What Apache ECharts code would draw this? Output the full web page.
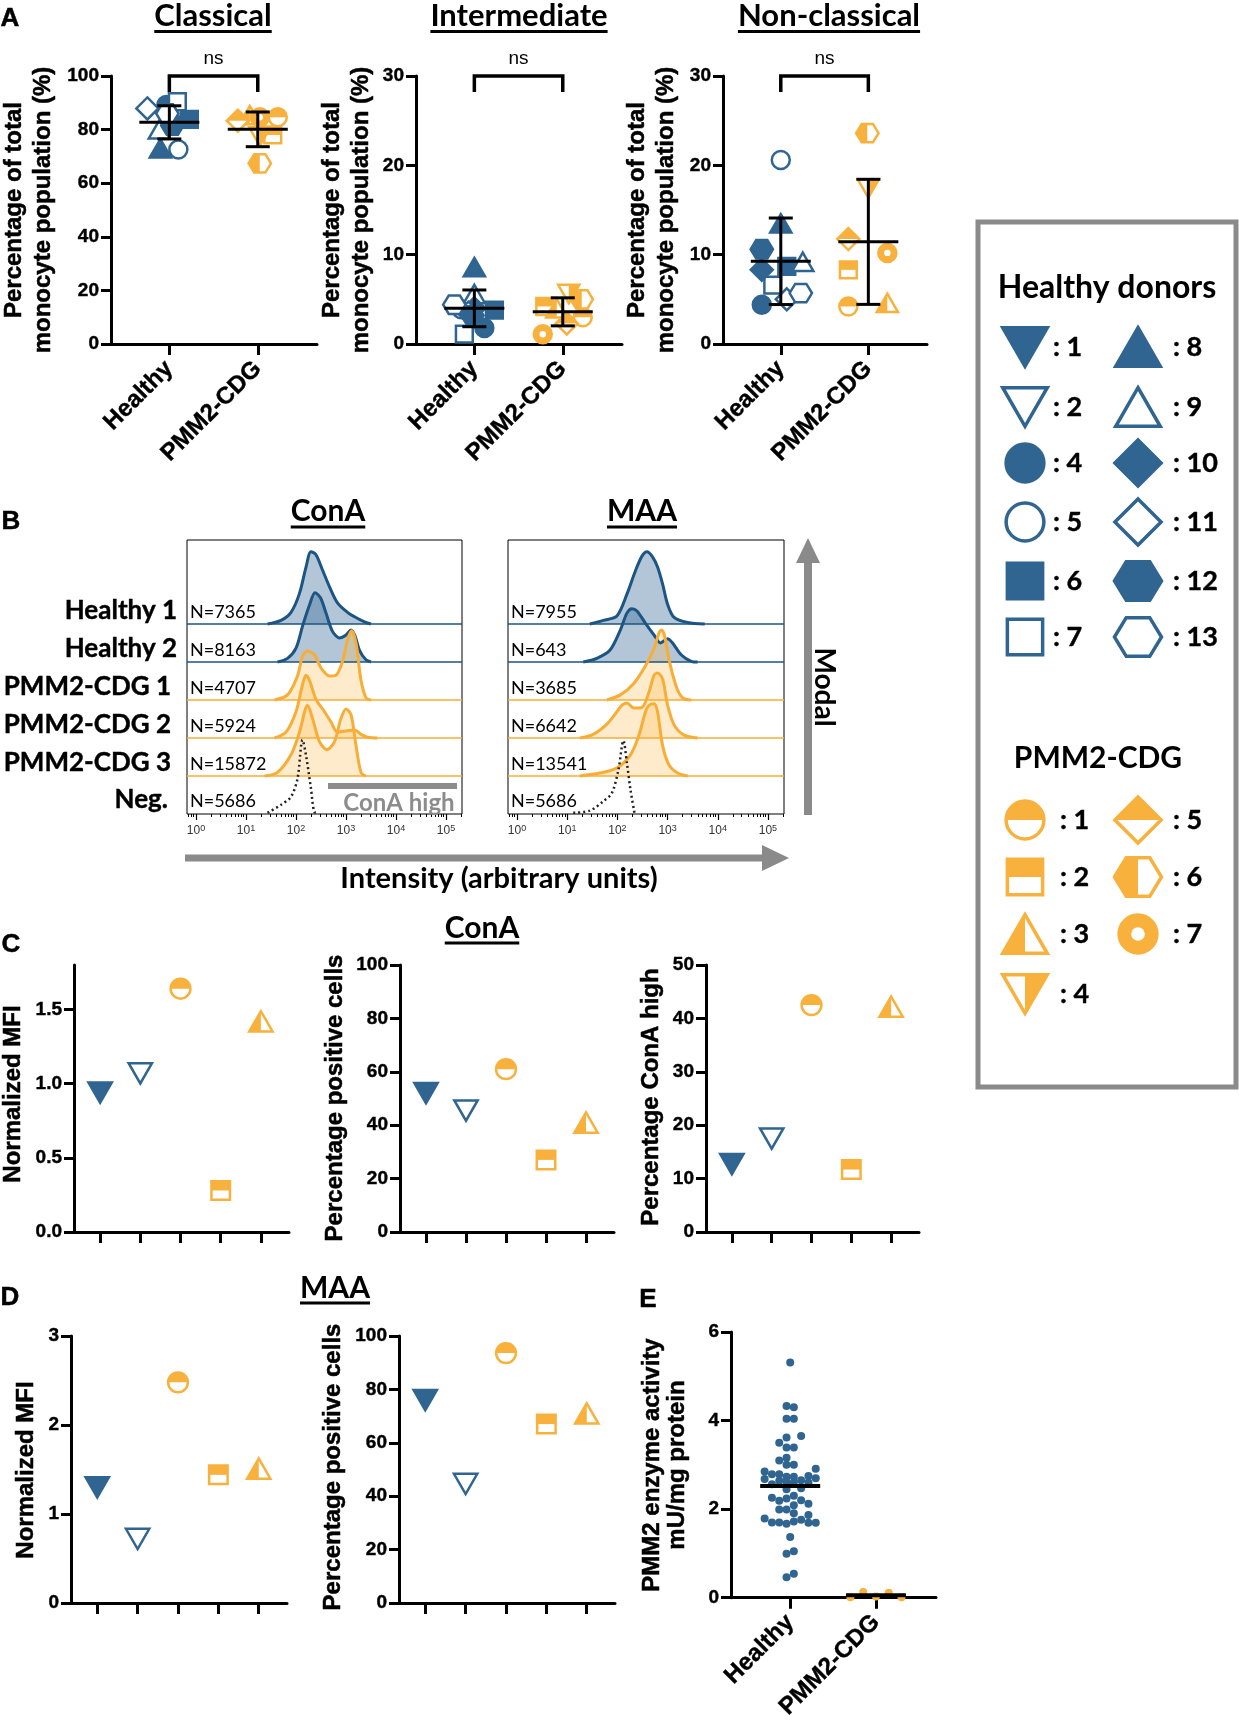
<!DOCTYPE html>
<html>
<head>
<meta charset="utf-8">
<title>Monocyte subsets and glycosylation</title>
<script src="https://cdn.jsdelivr.net/npm/echarts@6.0.0/dist/echarts.min.js"></script>
<style>
html,body{margin:0;padding:0;background:#ffffff;}
#chart{width:1239px;height:1722px;}
</style>
</head>
<body>
<div id="chart"></div>
<script>
// ================= DATA =================
const GROUPS = ['Healthy', 'PMM2-CDG'];

// Panel A: monocyte subsets (% of total monocytes), per donor
const A_H_DONORS = [4, 5, 6, 7, 8, 9, 10, 11, 12, 13];
const A_P_DONORS = [1, 2, 3, 4, 5, 6, 7];
const A_CLASSICAL_H = [89.2, 72.6, 83.8, 90.4, 73.0, 80.1, 82.5, 87.9, 81.5, 86.0];
const A_CLASSICAL_P = [84.6, 78.0, 85.4, 77.4, 83.3, 67.4, 84.6];
const A_INTER_H = [1.8, 3.9, 3.8, 1.1, 8.6, 5.6, 4.0, 3.5, 3.2, 4.4];
const A_INTER_P = [3.0, 4.2, 4.0, 5.6, 2.3, 5.0, 1.1];
const A_NONCL_H = [4.4, 20.6, 8.7, 6.6, 13.5, 9.2, 8.3, 5.0, 10.6, 5.7];
const A_NONCL_P = [4.2, 8.3, 4.6, 17.4, 11.75, 23.6, 10.2];

// Panel B: histograms, [log10 intensity, % of mode]
const B_ROWS = ['Healthy 1', 'Healthy 2', 'PMM2-CDG 1', 'PMM2-CDG 2', 'PMM2-CDG 3', 'Neg.'];
const CONA_N = [7365, 8163, 4707, 5924, 15872, 5686];
const MAA_N = [7955, 643, 3685, 6642, 13541, 5686];
const CONA_H1 = [[1.43,0],[1.7,5],[1.9,16],[2.07,42],[2.2,78],[2.3,99],[2.4,95],[2.53,74],[2.67,51],[2.83,29],[3.03,16],[3.17,10],[3.37,3],[3.5,0]];
const CONA_H2 = [[1.63,0],[1.83,5],[2.0,19],[2.13,49],[2.27,78],[2.38,95],[2.49,88],[2.6,67],[2.73,42],[2.87,33],[3.0,37],[3.1,44],[3.18,36],[3.27,16],[3.4,3],[3.5,0]];
const CONA_P1 = [[1.57,0],[1.83,7],[2.03,33],[2.13,60],[2.23,67],[2.37,62],[2.5,44],[2.67,33],[2.8,34],[2.93,53],[3.03,82],[3.11,95],[3.2,78],[3.3,27],[3.4,3],[3.5,0]];
const CONA_P2 = [[1.57,0],[1.8,8],[2.0,36],[2.13,73],[2.2,86],[2.27,79],[2.4,53],[2.57,36],[2.7,22],[2.83,8],[3.03,10],[3.17,11],[3.3,5],[3.43,1],[3.63,0]];
const CONA_P3 = [[1.37,0],[1.63,5],[1.9,29],[2.07,60],[2.18,90],[2.23,97],[2.33,79],[2.47,47],[2.62,36],[2.77,47],[2.9,79],[3.0,92],[3.1,84],[3.2,42],[3.3,5],[3.4,0]];
const CONA_NEG = [[1.43,0],[1.7,11],[1.9,22],[2.03,47],[2.13,100],[2.2,79],[2.3,33],[2.37,1],[2.45,0]];
const MAA_H1 = [[1.45,0],[1.72,5],[1.99,11],[2.19,41],[2.36,73],[2.49,93],[2.59,99],[2.7,92],[2.8,78],[2.9,55],[3.0,27],[3.13,9],[3.4,2],[3.74,0]];
const MAA_H2 = [[1.32,0],[1.59,5],[1.85,16],[2.06,44],[2.19,67],[2.29,73],[2.39,70],[2.56,53],[2.73,37],[2.86,26],[3.0,32],[3.1,26],[3.27,10],[3.47,1],[3.6,0]];
const MAA_P1 = [[1.79,0],[2.06,7],[2.33,23],[2.56,47],[2.73,71],[2.83,92],[2.88,96],[2.94,88],[3.03,55],[3.17,19],[3.3,3],[3.47,0]];
const MAA_P2 = [[1.25,0],[1.52,5],[1.79,19],[1.99,36],[2.09,45],[2.19,48],[2.33,41],[2.49,42],[2.63,63],[2.73,86],[2.8,89],[2.9,81],[3.0,45],[3.13,18],[3.33,4],[3.6,0]];
const MAA_P3 = [[1.25,0],[1.65,4],[1.99,11],[2.26,29],[2.43,56],[2.56,88],[2.63,97],[2.73,99],[2.8,88],[2.9,42],[3.03,15],[3.2,4],[3.4,0]];
const MAA_NEG = [[1.12,0],[1.45,3],[1.72,16],[1.89,27],[2.02,59],[2.12,99],[2.19,68],[2.26,32],[2.34,0]];
const CONA_HIGH_GATE = [2.64, 5.22];   // log10 range of the ConA-high gate

// Panels C, D: per sample (Healthy 1, Healthy 2, PMM2-CDG 1, 2, 3)
const CD_SAMPLES = ['H1', 'H2', 'P1', 'P2', 'P3'];
const C_MFI = [0.94, 1.07, 1.64, 0.28, 1.42];
const C_POS = [52, 45.5, 61, 27, 41];
const C_HIGH = [12.7, 17.5, 42.5, 11.7, 42.2];
const D_MFI = [1.30, 0.72, 2.48, 1.44, 1.51];
const D_POS = [76, 44.6, 93.6, 67, 71];

// Panel E: PMM2 enzyme activity (mU/mg protein)
const E_HEALTHY = [5.31, 4.33, 4.30, 4.04, 4.04, 3.62, 3.65, 3.50, 3.39, 3.39, 3.10, 3.16, 3.00, 3.00,
  2.85, 2.79, 2.79, 2.91, 2.75, 2.73, 2.73, 2.68, 2.64, 2.65, 2.70, 2.60, 2.56, 2.62, 2.60,
  2.45, 2.47, 2.30, 2.26, 2.24, 2.19, 2.20, 2.09, 2.12, 1.99, 1.99, 1.91, 1.87, 1.79, 1.76,
  1.70, 1.70, 1.67, 1.72, 1.69, 1.69, 1.37, 0.99, 1.05, 0.46, 0.54];
const E_PMM2 = [0.01, 0.13, 0.03, 0.11, 0.01];

// ================= LAYOUT / STYLE =================
const BLUE = '#2f6590', ORANGE = '#f8b13c';
const H_LINE = '#1c5583', H_FILL = 'rgba(46,100,145,0.52)';
const P_LINE = '#f7ad36', P_FILL = 'rgba(250,186,82,0.42)';
const FA = '"Liberation Sans", Arial, sans-serif';
const FT = 'Lato, "Open Sans", sans-serif';

// swarm offsets (px) for panel A, by donor number
const JIT_CLASSICAL_H = {4:-3,5:9,6:20,7:8,8:-9,9:-10,10:5,11:-22,12:3,13:-2};
const JIT_CLASSICAL_P = {1:20,2:15,3:-8,4:2,5:-20,6:2,7:2};
const JIT_INTER_H = {4:10,5:-13,6:20,7:-10,8:0,9:0,10:0,11:-6,12:-2,13:-20};
const JIT_INTER_P = {1:20,2:-18,3:-6,4:6,5:4,6:19,7:-20};
const JIT_NONCL_H = {4:-19,5:0,6:6,7:-8,8:0,9:22,10:-19,11:6,12:-19,13:20};
const JIT_NONCL_P = {1:-20,2:-20,3:19,4:0,5:-20,6:-1,7:19};
// swarm column index for panel E (column width 7.3 px)
const E_HEALTHY_COL = [0, -0.5, 0.5, -0.5, 0.5, -0.5, 1.5, -1.5, -0.5, 0.5, -1.5, -0.5, -0.5, 0.5,
  -3.5, -2.5, -1.5, 3.5, 2.5, -0.5, 0.5, -3.5, -1.5, 1.5, 3.5, 2.5, -2.5, -0.5, 0.5,
  -0.5, 1.5, 0.5, -2.5, -0.5, -1.5, 1.5, 0.5, 2.5, -0.5, -1.5, 0.5, 2.5, -3.5, 1.5,
  -2.5, -1.5, -0.5, 0.5, 2.5, 3.5, 0, -0.5, 0.5, -0.5, 0.5];
const E_PMM2_COL = [-3.5, -1.75, 0, 1.75, 3.5];

const B_XMIN = -0.18, B_XMAX = 5.32, B_ROWPX = 38, B_YMAX = 274 / 38;
const B_BASE = [5, 4, 3, 2, 1, 0.03];
const B_K = 1.92 / 100;

// ================= HELPERS =================
const ctx2d = document.createElement('canvas').getContext('2d');
function textW(t, font) { ctx2d.font = font; return ctx2d.measureText(t).width; }
function meanOf(a) { return a.reduce((s, v) => s + v, 0) / a.length; }
function sdOf(a) { const m = meanOf(a); return Math.sqrt(a.reduce((s, v) => s + (v - m) * (v - m), 0) / (a.length - 1)); }

function arcPts(cx, cy, r, a0, a1, n) {
  const pts = [];
  for (let i = 0; i <= n; i++) { const a = a0 + (a1 - a0) * i / n; pts.push([cx + r * Math.cos(a), cy + r * Math.sin(a)]); }
  return pts;
}
function shapeEls(kind, cx, cy, s, lw) {
  const isH = kind[0] === 'H';
  const n = parseInt(kind.slice(1), 10);
  const c = isH ? BLUE : ORANGE;
  const r = s * 0.45, a = s * 0.42, tw = s * 0.53, th = s * 0.46, dw = s * 0.55, dh = s * 0.55, hw = s * 0.56, hh = s * 0.46;
  const up = [[cx, cy - th], [cx + tw, cy + th], [cx - tw, cy + th]];
  const dn = [[cx - tw, cy - th], [cx + tw, cy - th], [cx, cy + th]];
  const sq = [[cx - a, cy - a], [cx + a, cy - a], [cx + a, cy + a], [cx - a, cy + a]];
  const di = [[cx, cy - dh], [cx + dw, cy], [cx, cy + dh], [cx - dw, cy]];
  const hx = [[cx - hw, cy], [cx - hw / 2, cy - hh], [cx + hw / 2, cy - hh], [cx + hw, cy], [cx + hw / 2, cy + hh], [cx - hw / 2, cy + hh]];
  const P = (pts, fill, stroke) => ({ type: 'polygon', shape: { points: pts }, style: { fill: fill, stroke: stroke || 'none', lineWidth: lw, lineJoin: 'miter' } });
  const C = (rr, fill, stroke) => ({ type: 'circle', shape: { cx: cx, cy: cy, r: rr }, style: { fill: fill, stroke: stroke || 'none', lineWidth: lw } });
  if (isH) {
    const open = [2, 5, 7, 9, 11, 13].indexOf(n) >= 0;
    const f = open ? '#ffffff' : c;
    if (n === 4 || n === 5) return [C(r, f, c)];
    const base = { 1: dn, 2: dn, 6: sq, 7: sq, 8: up, 9: up, 10: di, 11: di, 12: hx, 13: hx }[n];
    return [P(base, f, c)];
  }
  switch (n) {
    case 1: return [C(r, '#ffffff'), P(arcPts(cx, cy, r, Math.PI, 2 * Math.PI, 24), c), C(r, 'none', c)];
    case 2: return [P(sq, '#ffffff'), P([[cx - a, cy - a], [cx + a, cy - a], [cx + a, cy], [cx - a, cy]], c), P(sq, 'none', c)];
    case 3: return [P(up, '#ffffff'), P([[cx, cy - th], [cx, cy + th], [cx - tw, cy + th]], c), P(up, 'none', c)];
    case 4: return [P(dn, '#ffffff'), P([[cx, cy - th], [cx + tw, cy - th], [cx, cy + th]], c), P(dn, 'none', c)];
    case 5: return [P(di, '#ffffff'), P([[cx - dw, cy], [cx, cy - dh], [cx + dw, cy]], c), P(di, 'none', c)];
    case 6: return [P(hx, '#ffffff'), P([[cx, cy - hh], [cx - hw / 2, cy - hh], [cx - hw, cy], [cx - hw / 2, cy + hh], [cx, cy + hh]], c), P(hx, 'none', c)];
    case 7: return [C(r, c, c), C(r * 0.36, '#ffffff')];
  }
  return [];
}

function txt(t, x, y, font, opt) {
  opt = opt || {};
  const al = opt.align || 'center', va = opt.va || 'middle';
  const st = { text: t, font: font, fill: opt.fill || '#000', textAlign: al, align: al, textVerticalAlign: va, verticalAlign: va };
  if (opt.lh) st.lineHeight = opt.lh;
  if (opt.heavy) { st.stroke = opt.fill || '#000'; st.lineWidth = opt.heavy; }
  return { type: 'text', x: x, y: y, rotation: opt.rot || 0, z: 10, style: st };
}
function titleEls(t, cx, cy, uy, size) {
  const font = 'bold ' + size + 'px ' + FT;
  const w = textW(t, font);
  return [txt(t, cx, cy, font), { type: 'rect', z: 10, shape: { x: cx - w / 2, y: uy - 1.5, width: w, height: 3 }, style: { fill: '#000' } }];
}

function yAx(g, min, max, ticks, fmt) {
  return { type: 'value', gridIndex: g, min: min, max: max,
    axisLine: { show: true, onZero: false, lineStyle: { color: '#000', width: 3 } },
    axisTick: { show: true, length: 10, customValues: ticks, lineStyle: { color: '#000', width: 3 } },
    axisLabel: { show: true, customValues: ticks, formatter: fmt || (v => String(v)), color: '#000', fontFamily: FA, fontWeight: 'bold', fontSize: 19, margin: 12,
      textBorderColor: '#000', textBorderWidth: 0.4 },
    splitLine: { show: false } };
}
function xAx(g, min, max, ticks, labels) {
  return { type: 'value', gridIndex: g, min: min, max: max,
    axisLine: { show: true, onZero: false, lineStyle: { color: '#000', width: 3 } },
    axisTick: { show: true, length: 11, customValues: ticks, lineStyle: { color: '#000', width: 3 } },
    axisLabel: labels ? { show: true, customValues: ticks, formatter: v => labels[Math.round(v) - 1], rotate: 45, color: '#000', fontFamily: FA, fontWeight: 'bold', fontSize: 24, margin: 21,
      textBorderColor: '#000', textBorderWidth: 0.4 } : { show: false },
    splitLine: { show: false } };
}
function bX(g) {
  return { type: 'value', gridIndex: g, min: B_XMIN, max: B_XMAX, position: 'bottom',
    axisLine: { show: false, onZero: false },
    axisTick: { show: true, length: 6, customValues: [0, 1, 2, 3, 4, 5], lineStyle: { color: '#000', width: 1.2 } },
    axisLabel: { show: true, customValues: [0, 1, 2, 3, 4, 5], formatter: v => '10{s|' + v + '}', color: '#333', fontFamily: FA, fontSize: 12, margin: 10,
      rich: { s: { fontSize: 9, verticalAlign: 'top', fontFamily: FA, color: '#333', padding: [0, 0, 5, 0] } } },
    splitLine: { show: false } };
}
const B_MINOR = [];
for (let d = -1; d <= 5; d++) for (let k = 2; k <= 9; k++) { const v = d + Math.log10(k); if (v > B_XMIN && v < B_XMAX) B_MINOR.push(v); }
function bXminor(g) {
  return { type: 'value', gridIndex: g, min: B_XMIN, max: B_XMAX, position: 'bottom', offset: 0,
    axisLine: { show: false, onZero: false },
    axisTick: { show: true, length: 3, customValues: B_MINOR, lineStyle: { color: '#000', width: 1 } },
    axisLabel: { show: false }, splitLine: { show: false } };
}

function donorSeries(g, xval, prefix, donors, values, jit, s, lw) {
  return { type: 'custom', xAxisIndex: g, yAxisIndex: g, z: 3,
    data: donors.map((d, i) => [xval, values[i], d, jit ? (jit[d] || 0) : 0]),
    renderItem: function (params, api) {
      const p = api.coord([api.value(0), api.value(1)]);
      return { type: 'group', children: shapeEls(prefix + api.value(2), p[0] + api.value(3), p[1], s, lw) };
    } };
}
function errSeries(g, xval, values) {
  const m = meanOf(values), sd = sdOf(values);
  return { type: 'custom', xAxisIndex: g, yAxisIndex: g, z: 5, data: [[xval, m, sd]],
    renderItem: function (params, api) {
      const x = api.value(0), mm = api.value(1), s = api.value(2);
      const c = api.coord([x, mm]), t = api.coord([x, mm + s]), b = api.coord([x, mm - s]);
      const st = { stroke: '#000', lineWidth: 3 };
      return { type: 'group', children: [
        { type: 'line', shape: { x1: c[0], y1: t[1], x2: c[0], y2: b[1] }, style: st },
        { type: 'line', shape: { x1: c[0] - 12, y1: t[1], x2: c[0] + 12, y2: t[1] }, style: st },
        { type: 'line', shape: { x1: c[0] - 12, y1: b[1], x2: c[0] + 12, y2: b[1] }, style: st },
        { type: 'line', shape: { x1: c[0] - 30, y1: c[1], x2: c[0] + 30, y2: c[1] }, style: st }] };
    } };
}
function bracketSeries(g, top) {
  return { type: 'custom', xAxisIndex: g, yAxisIndex: g, z: 5, data: [[1, top]],
    renderItem: function (params, api) {
      const a = api.coord([1, api.value(1)]), b = api.coord([2, api.value(1)]);
      return { type: 'group', children: [
        { type: 'polyline', shape: { points: [[a[0], a[1] + 16], [a[0], a[1]], [b[0], b[1]], [b[0], b[1] + 16]] }, style: { stroke: '#000', lineWidth: 3.5, fill: 'none' } },
        { type: 'text', style: { text: 'ns', x: (a[0] + b[0]) / 2, y: a[1] - 17, font: '19px ' + FA, fill: '#000', textAlign: 'center', align: 'center', textVerticalAlign: 'middle', verticalAlign: 'middle' } }] };
    } };
}
function kindSeries(g, values) {
  return { type: 'custom', xAxisIndex: g, yAxisIndex: g, z: 3,
    data: values.map((v, i) => [i + 1, v, i]),
    renderItem: function (params, api) {
      const p = api.coord([api.value(0), api.value(1)]);
      return { type: 'group', children: shapeEls(CD_SAMPLES[api.value(2)], p[0], p[1], 22, 2.5) };
    } };
}

// ================= GRIDS & AXES =================
const grids = [
  { left: 111, top: 76, width: 206, height: 268 },   // 0 A classical
  { left: 416, top: 76, width: 206, height: 268 },   // 1 A intermediate
  { left: 723, top: 76, width: 204, height: 268 },   // 2 A non-classical
  { left: 187, top: 540, width: 275, height: 274, show: true, borderColor: '#000', borderWidth: 1, backgroundColor: 'transparent' }, // 3 B ConA
  { left: 508, top: 540, width: 276, height: 274, show: true, borderColor: '#000', borderWidth: 1, backgroundColor: 'transparent' }, // 4 B MAA
  { left: 74, top: 965, width: 215, height: 267 },   // 5 C MFI
  { left: 400, top: 965, width: 214, height: 267 },  // 6 C pos
  { left: 706, top: 965, width: 213, height: 267 },  // 7 C high
  { left: 71, top: 1336, width: 216, height: 267 },  // 8 D MFI
  { left: 399, top: 1336, width: 216, height: 267 }, // 9 D pos
  { left: 731, top: 1332, width: 205, height: 267 }  // 10 E
];
const CD_TICKS = [1, 2, 3, 4, 5];
const xAxes = [
  xAx(0, 0.34, 2.67, [1, 2], GROUPS), xAx(1, 0.34, 2.67, [1, 2], GROUPS), xAx(2, 0.34, 2.67, [1, 2], GROUPS),
  bX(3), bX(4),
  xAx(5, 0.35, 5.7, CD_TICKS, null), xAx(6, 0.35, 5.7, CD_TICKS, null), xAx(7, 0.35, 5.7, CD_TICKS, null),
  xAx(8, 0.35, 5.7, CD_TICKS, null), xAx(9, 0.35, 5.7, CD_TICKS, null),
  xAx(10, 0.31, 2.70, [1, 2], GROUPS),
  bXminor(3), bXminor(4)
];
const yAxes = [
  yAx(0, 0, 100, [0, 20, 40, 60, 80, 100]), yAx(1, 0, 30, [0, 10, 20, 30]), yAx(2, 0, 30, [0, 10, 20, 30]),
  { type: 'value', gridIndex: 3, min: 0, max: B_YMAX, show: false },
  { type: 'value', gridIndex: 4, min: 0, max: B_YMAX, show: false },
  yAx(5, 0, 1.8, [0, 0.5, 1, 1.5], v => v.toFixed(1)), yAx(6, 0, 100, [0, 20, 40, 60, 80, 100]), yAx(7, 0, 50, [0, 10, 20, 30, 40, 50]),
  yAx(8, 0, 3, [0, 1, 2, 3]), yAx(9, 0, 100, [0, 20, 40, 60, 80, 100]),
  yAx(10, 0, 6, [0, 2, 4, 6])
];

// ================= SERIES =================
const series = [];
const A_PANELS = [
  { g: 0, h: A_CLASSICAL_H, p: A_CLASSICAL_P, jh: JIT_CLASSICAL_H, jp: JIT_CLASSICAL_P, top: 100 },
  { g: 1, h: A_INTER_H, p: A_INTER_P, jh: JIT_INTER_H, jp: JIT_INTER_P, top: 30 },
  { g: 2, h: A_NONCL_H, p: A_NONCL_P, jh: JIT_NONCL_H, jp: JIT_NONCL_P, top: 30 }
];
A_PANELS.forEach(pn => {
  series.push(donorSeries(pn.g, 1, 'H', A_H_DONORS, pn.h, pn.jh, 20, 2.5));
  series.push(donorSeries(pn.g, 2, 'P', A_P_DONORS, pn.p, pn.jp, 20, 2.5));
  series.push(errSeries(pn.g, 1, pn.h));
  series.push(errSeries(pn.g, 2, pn.p));
  series.push(bracketSeries(pn.g, pn.top));
});

const B_SETS = [
  { g: 3, curves: [CONA_H1, CONA_H2, CONA_P1, CONA_P2, CONA_P3, CONA_NEG] },
  { g: 4, curves: [MAA_H1, MAA_H2, MAA_P1, MAA_P2, MAA_P3, MAA_NEG] }
];
B_SETS.forEach(set => {
  set.curves.forEach((cv, i) => {
    const b = B_BASE[i];
    const isH = i < 2, isNeg = i === 5;
    if (!isNeg) {
      series.push({ type: 'line', xAxisIndex: set.g, yAxisIndex: set.g, silent: true, symbol: 'none', z: 2,
        data: [[B_XMIN, b], [B_XMAX, b]], lineStyle: { color: isH ? H_LINE : P_LINE, width: 1.6 } });
    }
    series.push({ type: 'line', xAxisIndex: set.g, yAxisIndex: set.g, silent: true, symbol: 'none', showSymbol: false, smooth: 0.3, z: 2,
      data: cv.map(p => [p[0], b + p[1] * B_K]),
      lineStyle: isNeg ? { color: '#222', width: 2.5, type: [2, 3] } : { color: isH ? H_LINE : P_LINE, width: 3 },
      areaStyle: isNeg ? undefined : { color: isH ? H_FILL : P_FILL, origin: b } });
  });
});
series.push({ type: 'custom', xAxisIndex: 3, yAxisIndex: 3, z: 4, data: [[CONA_HIGH_GATE[0], CONA_HIGH_GATE[1]]],
  renderItem: function (params, api) {
    const a = api.coord([api.value(0), 0.74]), b = api.coord([api.value(1), 0.74]);
    return { type: 'rect', shape: { x: a[0], y: a[1] - 3, width: b[0] - a[0], height: 6 }, style: { fill: '#8c8c8c' } };
  } });

series.push(kindSeries(5, C_MFI), kindSeries(6, C_POS), kindSeries(7, C_HIGH), kindSeries(8, D_MFI), kindSeries(9, D_POS));

series.push({ type: 'scatter', xAxisIndex: 10, yAxisIndex: 10, symbol: 'circle', symbolSize: 8, z: 3, itemStyle: { color: BLUE, opacity: 1 },
  data: E_HEALTHY.map((v, i) => ({ value: [1, v], symbolOffset: [E_HEALTHY_COL[i] * 7.3, 0] })) });
series.push({ type: 'scatter', xAxisIndex: 10, yAxisIndex: 10, symbol: 'circle', symbolSize: 8, z: 3, itemStyle: { color: ORANGE, opacity: 1 },
  data: E_PMM2.map((v, i) => ({ value: [2, v], symbolOffset: [E_PMM2_COL[i] * 7.3, 0] })) });
series.push({ type: 'custom', xAxisIndex: 10, yAxisIndex: 10, z: 5, data: [[1, meanOf(E_HEALTHY)], [2, meanOf(E_PMM2)]],
  renderItem: function (params, api) {
    const c = api.coord([api.value(0), api.value(1)]);
    return { type: 'line', shape: { x1: c[0] - 30, y1: c[1], x2: c[0] + 30, y2: c[1] }, style: { stroke: '#000', lineWidth: 4 } };
  } });

// ================= TEXT / ANNOTATIONS =================
const G = [];
const LET = 'bold 26px ' + FA;
[['A', 10, 19], ['B', 11, 522], ['C', 11, 945], ['D', 10, 1298], ['E', 648, 1300]].forEach(l => G.push(txt(l[0], l[1], l[2], LET, { heavy: 0.5 })));
G.push(...titleEls('Classical', 213, 16, 31.5, 31), ...titleEls('Intermediate', 519, 16, 31.5, 31), ...titleEls('Non-classical', 829, 16, 31.5, 31));
const YT = 'bold 24px ' + FA;
const A_YT = 'Percentage of total\nmonocyte population (%)';
[[28.5, 210], [347, 210], [652, 210]].forEach(p => G.push(txt(A_YT, p[0], p[1], YT, { rot: Math.PI / 2, lh: 29, heavy: 0.5 })));

// Panel B
G.push(...titleEls('ConA', 328, 511, 527, 30), ...titleEls('MAA', 642, 511, 527, 30));
const B_ROW_RIGHT = [177, 177, 171, 171, 171, 168];
B_ROWS.forEach((r, i) => {
  const yb = 814 - B_BASE[i] * B_ROWPX;
  G.push(txt(r, B_ROW_RIGHT[i], yb - 13, 'bold 26px ' + FT, { align: 'right', heavy: 0.4 }));
  G.push(txt('N=' + CONA_N[i], 190, yb - 12, '18px ' + FT, { align: 'left' }));
  G.push(txt('N=' + MAA_N[i], 511, yb - 12, '18px ' + FT, { align: 'left' }));
});
G.push(txt('ConA high', 399, 803, 'bold 24px ' + FT, { fill: '#8c8c8c' }));
G.push({ type: 'rect', shape: { x: 185, y: 854.5, width: 578, height: 7 }, style: { fill: '#8a8a8a' } });
G.push({ type: 'polygon', shape: { points: [[762, 845], [789, 858], [762, 871]] }, style: { fill: '#8a8a8a' } });
G.push(txt('Intensity (arbitrary units)', 499, 879, 'bold 29px ' + FT));
G.push({ type: 'rect', shape: { x: 804, y: 560, width: 8, height: 255 }, style: { fill: '#8a8a8a' } });
G.push({ type: 'polygon', shape: { points: [[796, 563], [808, 538], [820, 563]] }, style: { fill: '#8a8a8a' } });
G.push(txt('Modal', 824, 687, 'bold 28px ' + FT, { rot: -Math.PI / 2 }));

// Panels C, D, E
G.push(...titleEls('ConA', 482, 928, 943, 30), ...titleEls('MAA', 335, 1288, 1303, 30));
G.push(txt('Normalized MFI', 13, 1094, YT, { rot: Math.PI / 2, heavy: 0.5 }));
G.push(txt('Percentage positive cells', 335, 1098, YT, { rot: Math.PI / 2, heavy: 0.5 }));
G.push(txt('Percentage ConA high', 651, 1097, YT, { rot: Math.PI / 2, heavy: 0.5 }));
G.push(txt('Normalized MFI', 26, 1470, YT, { rot: Math.PI / 2, heavy: 0.5 }));
G.push(txt('Percentage positive cells', 333, 1467, YT, { rot: Math.PI / 2, heavy: 0.5 }));
G.push(txt('PMM2 enzyme activity\nmU/mg protein', 664.5, 1465, YT, { rot: Math.PI / 2, lh: 25, heavy: 0.5 }));

// Legend box
G.push({ type: 'rect', shape: { x: 978, y: 222, width: 258, height: 865 }, style: { fill: 'none', stroke: '#8a8a8a', lineWidth: 5 } });
G.push(txt('Healthy donors', 1107, 288, 'bold 32px ' + FT));
G.push(txt('PMM2-CDG', 1098, 758, 'bold 30px ' + FT));
const LEG_H_L = [1, 2, 4, 5, 6, 7], LEG_H_R = [8, 9, 10, 11, 12, 13];
const LEG_P_L = [1, 2, 3, 4], LEG_P_R = [5, 6, 7];
const LEG_H_Y = [347, 407, 463, 522, 581, 637], LEG_P_Y = [820, 877, 934, 994];
const LF = 'bold 27px ' + FT;
function legItem(kind, num, cx, cy, tx) {
  shapeEls(kind, cx, cy, 42, 3.5).forEach(e => { e.z = 10; G.push(e); });
  G.push(txt(': ' + num, tx, cy, LF, { align: 'left', heavy: 0.4 }));
}
LEG_H_L.forEach((d, i) => legItem('H' + d, d, 1025, LEG_H_Y[i], 1053));
LEG_H_R.forEach((d, i) => legItem('H' + d, d, 1138, LEG_H_Y[i], 1173));
LEG_P_L.forEach((d, i) => legItem('P' + d, d, 1025, LEG_P_Y[i], 1060));
LEG_P_R.forEach((d, i) => legItem('P' + d, d, 1138, LEG_P_Y[i], 1173));

// ================= CHART =================
const chart = echarts.init(document.getElementById('chart'), null, { renderer: 'canvas', width: 1239, height: 1722 });
chart.setOption({
  animation: false,
  backgroundColor: '#ffffff',
  textStyle: { fontFamily: FA },
  grid: grids,
  xAxis: xAxes,
  yAxis: yAxes,
  series: series,
  graphic: { elements: G }
});
</script>
</body>
</html>
